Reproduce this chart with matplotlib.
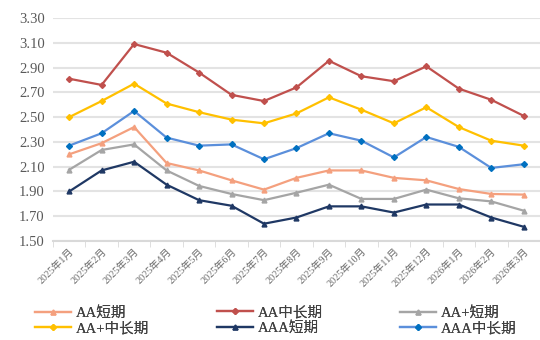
import numpy as np
import matplotlib
matplotlib.use("Agg")
from matplotlib import pyplot as plt

plt.rcParams['font.family'] = ['Liberation Serif', 'Noto Sans CJK SC']

months = ['2025年1月', '2025年2月', '2025年3月', '2025年4月', '2025年5月',
          '2025年6月', '2025年7月', '2025年8月', '2025年9月', '2025年10月',
          '2025年11月', '2025年12月', '2026年1月', '2026年2月', '2026年3月']

aa_short = [2.20, 2.29, 2.42, 2.13, 2.07, 1.99, 1.915, 2.01, 2.07, 2.07,
            2.01, 1.99, 1.92, 1.88, 1.875]
aa_long = [2.81, 2.76, 3.09, 3.02, 2.86, 2.68, 2.63, 2.74, 2.955, 2.83,
           2.79, 2.91, 2.73, 2.64, 2.51]
aap_short = [2.075, 2.235, 2.28, 2.07, 1.945, 1.88, 1.83, 1.89, 1.955, 1.84,
             1.84, 1.915, 1.845, 1.82, 1.745]
aap_long = [2.50, 2.63, 2.77, 2.61, 2.54, 2.48, 2.45, 2.53, 2.66, 2.56,
            2.45, 2.58, 2.42, 2.31, 2.27]
aaa_short = [1.90, 2.07, 2.14, 1.955, 1.83, 1.785, 1.64, 1.69, 1.78, 1.78,
             1.73, 1.795, 1.795, 1.69, 1.615]
aaa_long = [2.27, 2.37, 2.55, 2.335, 2.27, 2.28, 2.16, 2.25, 2.37, 2.31,
            2.175, 2.34, 2.26, 2.09, 2.12]

# (label, values, line colour, marker, marker colour)
series = [
    ('AA短期', aa_short, '#F4A07E', '^', '#F4A07E'),
    ('AA中长期', aa_long, '#C0504D', 'D', '#C0504D'),
    ('AA+短期', aap_short, '#A5A5A5', '^', '#A5A5A5'),
    ('AA+中长期', aap_long, '#FFC000', 'D', '#FFC000'),
    ('AAA短期', aaa_short, '#1F3864', '^', '#1F3864'),
    ('AAA中长期', aaa_long, '#5B8FDB', 'D', '#0070C0'),
]

fig = plt.figure(figsize=(5.4, 3.4), dpi=100)
ax = fig.add_axes([0.098, 0.291, 0.902, 0.656])

x = np.arange(len(months))
handles = {}
for name, vals, col, mk, mcol in series:
    h, = ax.plot(x, vals, color=col, lw=1.6, marker=mk,
                 ms=3.5 if mk == '^' else 3, mfc=mcol, mec=mcol, label=name)
    handles[name] = h

ax.set_ylim(1.5, 3.3)
ax.set_yticks(np.arange(1.5, 3.31, 0.2))
ax.set_yticklabels([f'{v:.2f}' for v in np.arange(1.5, 3.31, 0.2)],
                   fontsize=10.5, color='#595959')
ax.set_xlim(-0.5, len(months) - 0.5)
ax.set_xticks(x)
ax.set_xticklabels(months, rotation=45, ha='right', rotation_mode='anchor',
                   fontsize=7.3, color='#6A6A6A')
ax.tick_params(axis='x', length=0, pad=4)
ax.tick_params(axis='y', length=0, pad=6)
ax.set_xticks(np.arange(-0.5, len(months), 1), minor=True)
ax.tick_params(axis='x', which='minor', length=4, color='#D9D9D9')

ax.grid(axis='y', color='#E3E3E3', lw=1.5)
ax.set_axisbelow(True)
for s in ['top', 'right', 'left']:
    ax.spines[s].set_visible(False)
ax.spines['bottom'].set_color('#D9D9D9')
ax.spines['bottom'].set_linewidth(1.5)

# three legend columns, two entries each, placed side by side
columns = [['AA短期', 'AA+中长期'], ['AA中长期', 'AAA短期'], ['AA+短期', 'AAA中长期']]
col_x = [35, 217, 400]
for names, px in zip(columns, col_x):
    leg = fig.legend([handles[n] for n in names], names, loc='upper left',
                     bbox_to_anchor=(px / 540, 1 - 306 / 340), frameon=False,
                     fontsize=10.5, handlelength=2.5, labelspacing=0.12,
                     handletextpad=0.3, borderpad=0, borderaxespad=0,
                     labelcolor='#404040')
    fig.add_artist(leg)

fig.savefig('out.png', dpi=100)
